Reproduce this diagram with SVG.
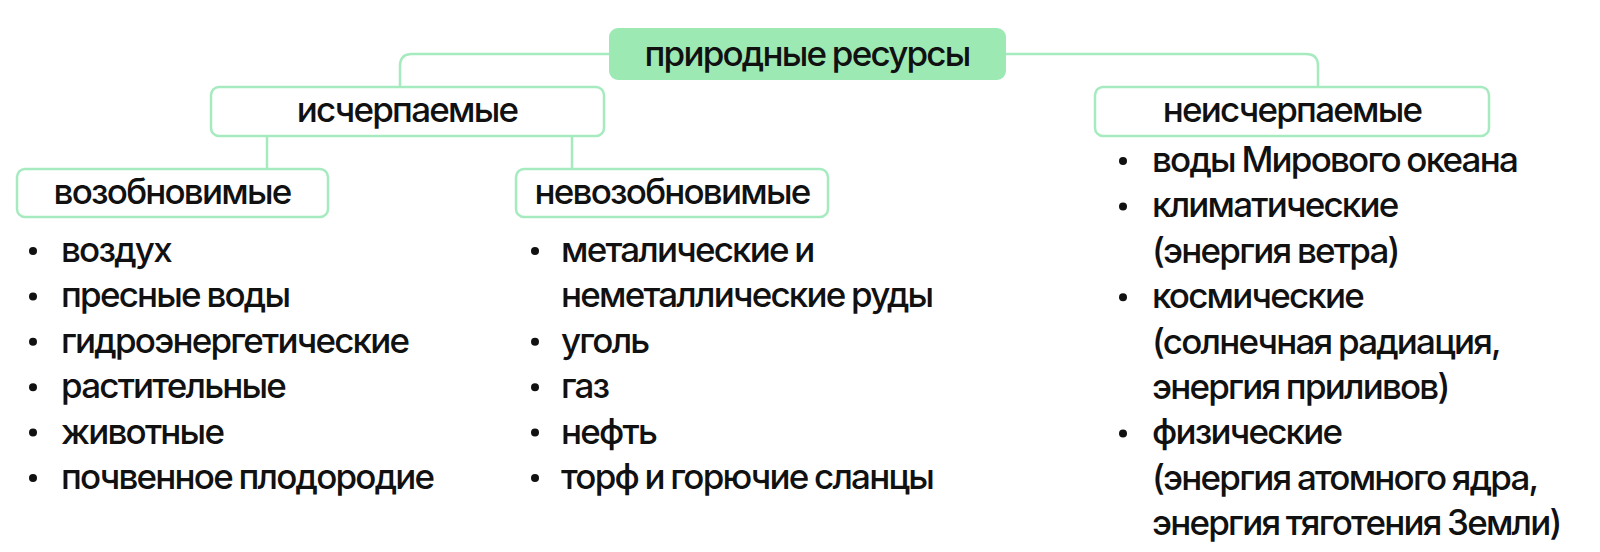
<svg xmlns="http://www.w3.org/2000/svg" width="1600" height="552" viewBox="0 0 1600 552">
<style>
.t{font-family:Inter,"Noto Sans",sans-serif;font-size:35px;font-weight:500;fill:#111;letter-spacing:-1.8px;word-spacing:-1px}
.c{text-anchor:middle}
.box{fill:#fff;stroke:#a6ebbf;stroke-width:2.5}
.root{fill:#9de9b4;stroke:#9de9b4;stroke-width:2}
.ln{fill:none;stroke:#a6ebbf;stroke-width:2.5}
.b{fill:#111}
</style>
<rect width="1600" height="552" fill="#fff"/>
<g id="connectors">
<path class="ln" d="M610,54 H412 Q400,54 400,66 V87"/>
<path class="ln" d="M1005,54 H1306 Q1318,54 1318,66 V87"/>
<path class="ln" d="M267,136 V169"/>
<path class="ln" d="M572,136 V169"/>
</g>
<g id="root">
<rect class="root" x="610" y="29" width="395" height="50" rx="8"/>
<text class="t c" x="807" y="66">природные ресурсы</text>
</g>
<g id="exhaustible">
<rect class="box" x="211" y="87" width="393" height="49" rx="8"/>
<text class="t c" x="407" y="122">исчерпаемые</text>
</g>
<g id="inexhaustible">
<rect class="box" x="1095" y="87" width="394" height="49" rx="8"/>
<text class="t c" x="1292" y="122">неисчерпаемые</text>
</g>
<g id="renewable">
<rect class="box" x="17" y="169" width="311" height="48" rx="8"/>
<text class="t c" x="172" y="204">возобновимые</text>
</g>
<g id="nonrenewable">
<rect class="box" x="516" y="169" width="312" height="48" rx="8"/>
<text class="t c" x="672" y="204">невозобновимые</text>
</g>
<g id="list-renewable">
<circle class="b" cx="33" cy="251" r="4"/><text class="t" x="61" y="262">воздух</text>
<circle class="b" cx="33" cy="296.4" r="4"/><text class="t" x="61" y="307.4">пресные воды</text>
<circle class="b" cx="33" cy="341.8" r="4"/><text class="t" x="61" y="352.8">гидроэнергетические</text>
<circle class="b" cx="33" cy="387.2" r="4"/><text class="t" x="61" y="398.2">растительные</text>
<circle class="b" cx="33" cy="432.6" r="4"/><text class="t" x="61" y="443.6">животные</text>
<circle class="b" cx="33" cy="478" r="4"/><text class="t" x="61" y="489">почвенное плодородие</text>
</g>
<g id="list-nonrenewable">
<circle class="b" cx="535" cy="251" r="4"/><text class="t" x="561" y="262">металические и</text>
<text class="t" x="561" y="307.4">неметаллические руды</text>
<circle class="b" cx="535" cy="341.8" r="4"/><text class="t" x="561" y="352.8">уголь</text>
<circle class="b" cx="535" cy="387.2" r="4"/><text class="t" x="561" y="398.2">газ</text>
<circle class="b" cx="535" cy="432.6" r="4"/><text class="t" x="561" y="443.6">нефть</text>
<circle class="b" cx="535" cy="478" r="4"/><text class="t" x="561" y="489">торф и горючие сланцы</text>
</g>
<g id="list-inexhaustible">
<circle class="b" cx="1123" cy="161" r="4"/><text class="t" x="1152" y="172">воды Мирового океана</text>
<circle class="b" cx="1123" cy="206.4" r="4"/><text class="t" x="1152" y="217.4">климатические</text>
<text class="t" x="1152" y="262.8">(энергия ветра)</text>
<circle class="b" cx="1123" cy="297.2" r="4"/><text class="t" x="1152" y="308.2">космические</text>
<text class="t" x="1152" y="353.6">(солнечная радиация,</text>
<text class="t" x="1152" y="399">энергия приливов)</text>
<circle class="b" cx="1123" cy="433.4" r="4"/><text class="t" x="1152" y="444.4">физические</text>
<text class="t" x="1152" y="489.8">(энергия атомного ядра,</text>
<text class="t" x="1152" y="535.2">энергия тяготения Земли)</text>
</g>
</svg>
